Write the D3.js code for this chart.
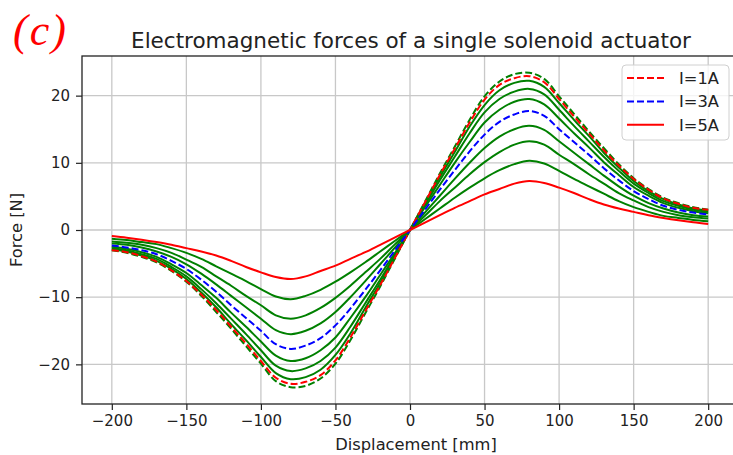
<!DOCTYPE html>
<html lang="en">
<head>
    <meta charset="UTF-8">
    <title>Electromagnetic forces of a single solenoid actuator</title>
    <script src="https://d3js.org/d3.v7.min.js"></script>
    <style>
        body { margin: 0; background: white; }
        svg { display: block; font-family: "DejaVu Sans", sans-serif; }
    </style>
</head>
<body>
    <div id="chart"></div>
    <script>
        const width = 733, height = 455;
        const margin = { top: 56, right: -5, bottom: 51, left: 82 };

        // displacement samples [mm]
        const displacement = [-200,-190,-180,-170,-160,-150,-140,-130,-120,-110,-100,-90,-80,-70,-60,-50,-40,-30,-20,-10,0,
            10,20,30,40,50,60,70,80,90,100,110,120,130,140,150,160,170,180,190,200];

        // force curves [N]
        const greenDashed = [-3.0,-3.4,-4.0,-4.8,-6.1,-7.7,-9.8,-12.2,-14.7,-17.3,-19.9,-22.5,-23.4,-23.2,-22.1,-19.9,-16.4,-12.4,-8.4,-4.2,0,
            4.2,8.4,12.4,16.4,19.9,22.1,23.2,23.4,22.5,19.9,17.3,14.7,12.2,9.8,7.7,6.1,4.8,4.0,3.4,3.0];
        const force1A = [-3.0,-3.3,-3.9,-4.7,-6.0,-7.6,-9.6,-11.9,-14.4,-16.9,-19.5,-22.0,-22.9,-22.6,-21.6,-19.4,-16.0,-12.1,-8.2,-4.1,0,
            4.1,8.2,12.1,16.0,19.4,21.6,22.6,22.9,22.0,19.5,16.9,14.4,11.9,9.6,7.6,6.0,4.7,3.9,3.3,3.0];
        const green1 = [-2.9,-3.2,-3.8,-4.6,-5.8,-7.3,-9.3,-11.5,-14.0,-16.4,-18.9,-21.3,-22.2,-21.9,-20.8,-18.6,-15.4,-11.6,-7.9,-4.0,0,
            4.0,7.9,11.6,15.4,18.6,20.8,21.9,22.2,21.3,18.9,16.4,14.0,11.5,9.3,7.3,5.8,4.6,3.8,3.2,2.9];
        const green2 = [-2.7,-3.0,-3.6,-4.3,-5.5,-6.9,-8.8,-10.9,-13.2,-15.5,-17.9,-20.2,-21.0,-20.6,-19.5,-17.5,-14.4,-10.9,-7.4,-3.7,0,
            3.7,7.4,10.9,14.4,17.5,19.5,20.6,21.0,20.2,17.9,15.5,13.2,10.9,8.8,6.9,5.5,4.3,3.6,3.0,2.7];
        const green3 = [-2.5,-2.8,-3.3,-4.0,-5.1,-6.4,-8.2,-10.1,-12.3,-14.4,-16.6,-18.7,-19.5,-19.1,-17.9,-16.0,-13.1,-10.0,-6.7,-3.4,0,
            3.4,6.7,10.0,13.1,16.0,17.9,19.1,19.5,18.7,16.6,14.4,12.3,10.1,8.2,6.4,5.1,4.0,3.3,2.8,2.5];
        const force3A = [-2.3,-2.6,-3.0,-3.6,-4.6,-5.8,-7.4,-9.2,-11.2,-13.1,-15.0,-17.0,-17.7,-17.2,-16.1,-14.2,-11.7,-8.9,-6.0,-3.0,0,
            3.0,6.0,8.9,11.7,14.2,16.1,17.2,17.7,17.0,15.0,13.1,11.2,9.2,7.4,5.8,4.6,3.6,3.0,2.6,2.3];
        const green4 = [-2.0,-2.2,-2.6,-3.2,-4.0,-5.1,-6.5,-8.1,-9.8,-11.5,-13.2,-14.9,-15.5,-15.0,-13.9,-12.2,-10.0,-7.6,-5.1,-2.6,0,
            2.6,5.1,7.6,10.0,12.2,13.9,15.0,15.5,14.9,13.2,11.5,9.8,8.1,6.5,5.1,4.0,3.2,2.6,2.2,2.0];
        const green5 = [-1.7,-1.9,-2.2,-2.7,-3.4,-4.4,-5.5,-6.9,-8.3,-9.8,-11.2,-12.7,-13.2,-12.7,-11.6,-10.1,-8.3,-6.3,-4.3,-2.1,0,
            2.1,4.3,6.3,8.3,10.1,11.6,12.7,13.2,12.7,11.2,9.8,8.3,6.9,5.5,4.4,3.4,2.7,2.2,1.9,1.7];
        const green6 = [-1.3,-1.5,-1.8,-2.1,-2.7,-3.4,-4.3,-5.4,-6.5,-7.6,-8.8,-9.9,-10.3,-9.8,-8.9,-7.7,-6.3,-4.8,-3.2,-1.6,0,
            1.6,3.2,4.8,6.3,7.7,8.9,9.8,10.3,9.9,8.8,7.6,6.5,5.4,4.3,3.4,2.7,2.1,1.8,1.5,1.3];
        const force5A = [-0.9,-1.15,-1.45,-1.8,-2.2,-2.7,-3.2,-3.8,-4.6,-5.5,-6.3,-7.0,-7.3,-6.9,-6.1,-5.3,-4.3,-3.3,-2.2,-1.1,0,
            1.1,2.2,3.3,4.3,5.3,6.1,6.9,7.3,7.0,6.3,5.5,4.6,3.8,3.2,2.7,2.2,1.8,1.45,1.15,0.9];

        const xTicks = [-200,-150,-100,-50,0,50,100,150,200];
        const yTicks = [-20,-10,0,10,20];
        const legendLabels = ["I=1A", "I=3A", "I=5A"];

        const curves = [
            { values: green1, color: "#008000", dash: null },
            { values: green2, color: "#008000", dash: null },
            { values: green3, color: "#008000", dash: null },
            { values: green4, color: "#008000", dash: null },
            { values: green5, color: "#008000", dash: null },
            { values: green6, color: "#008000", dash: null },
            { values: greenDashed, color: "#008000", dash: "7,3" },
            { values: force1A, color: "#ff0000", dash: "7,3" },
            { values: force3A, color: "#0000ff", dash: "7,3" },
            { values: force5A, color: "#ff0000", dash: null }
        ];

        const svg = d3.select("#chart").append("svg")
            .attr("width", width)
            .attr("height", height);

        const x = d3.scaleLinear().domain([-220, 220]).range([margin.left, 738]);
        const y = d3.scaleLinear().domain([-25.9, 25.9]).range([height - margin.bottom, margin.top]);

        // grid
        svg.append("g").selectAll("line").data(xTicks).enter().append("line")
            .attr("x1", d => x(d)).attr("x2", d => x(d))
            .attr("y1", y.range()[0]).attr("y2", y.range()[1])
            .attr("stroke", "#c8c8c8").attr("stroke-width", 1.3);
        svg.append("g").selectAll("line").data(yTicks).enter().append("line")
            .attr("x1", margin.left).attr("x2", 738)
            .attr("y1", d => y(d)).attr("y2", d => y(d))
            .attr("stroke", "#c8c8c8").attr("stroke-width", 1.3);

        // curves
        const line = d3.line()
            .x((d, i) => x(displacement[i]))
            .y(d => y(d))
            .curve(d3.curveCatmullRom.alpha(0.5));

        svg.append("g").selectAll("path").data(curves).enter().append("path")
            .attr("d", d => line(d.values))
            .attr("fill", "none")
            .attr("stroke", d => d.color)
            .attr("stroke-width", 2)
            .attr("stroke-dasharray", d => d.dash);

        // axes
        const xAxis = svg.append("g")
            .attr("transform", `translate(0,${y.range()[0]})`)
            .call(d3.axisBottom(x).tickValues(xTicks).tickSize(6).tickPadding(5));
        const yAxis = svg.append("g")
            .attr("transform", `translate(${margin.left},0)`)
            .call(d3.axisLeft(y).tickValues(yTicks).tickSize(6).tickPadding(6));

        [xAxis, yAxis].forEach(ax => {
            ax.select(".domain").remove();
            ax.selectAll("line").attr("stroke", "#222").attr("stroke-width", 1.2);
            ax.selectAll("text").attr("font-size", 15).attr("fill", "#222")
                .attr("font-family", "DejaVu Sans, sans-serif");
        });

        // spines
        svg.append("rect")
            .attr("x", margin.left).attr("y", margin.top)
            .attr("width", 738 - margin.left).attr("height", y.range()[0] - margin.top)
            .attr("fill", "none").attr("stroke", "#222").attr("stroke-width", 1.3);

        // labels
        svg.append("text")
            .attr("x", 411).attr("y", 48)
            .attr("text-anchor", "middle")
            .attr("font-size", 21.5).attr("fill", "#222")
            .text("Electromagnetic forces of a single solenoid actuator");

        svg.append("text")
            .attr("x", 416).attr("y", 450)
            .attr("text-anchor", "middle")
            .attr("font-size", 16.3).attr("fill", "#222")
            .text("Displacement [mm]");

        svg.append("text")
            .attr("transform", `translate(22,${y(0)}) rotate(-90)`)
            .attr("text-anchor", "middle")
            .attr("font-size", 16.3).attr("fill", "#222")
            .text("Force [N]");

        svg.append("text")
            .attr("x", 13).attr("y", 45)
            .attr("font-family", "Liberation Serif, serif")
            .attr("font-style", "italic")
            .attr("font-size", 44)
            .attr("letter-spacing", 2)
            .attr("fill", "#ff0000")
            .text("(c)");

        // legend
        const legend = svg.append("g").attr("transform", "translate(622,65)");
        legend.append("rect")
            .attr("width", 107).attr("height", 75).attr("rx", 4)
            .attr("fill", "white").attr("fill-opacity", 0.8)
            .attr("stroke", "#d0d0d0");
        const legendCurves = [curves[7], curves[8], curves[9]];
        legendLabels.forEach((label, i) => {
            const c = legendCurves[i];
            legend.append("line")
                .attr("x1", 5).attr("x2", 42)
                .attr("y1", 13 + i * 23.4).attr("y2", 13 + i * 23.4)
                .attr("stroke", c.color).attr("stroke-width", 2)
                .attr("stroke-dasharray", c.dash);
            legend.append("text")
                .attr("x", 57).attr("y", 13 + i * 23.4)
                .attr("dy", "0.35em")
                .attr("font-size", 16.3).attr("fill", "#222")
                .text(label);
        });
    </script>
</body>
</html>
